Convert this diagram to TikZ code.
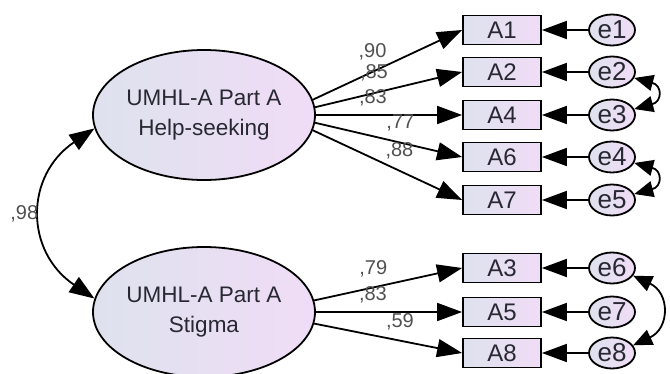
\documentclass[tikz,border=0pt]{standalone}
\usepackage{fontspec}
\setmainfont{Liberation Sans}
\usetikzlibrary{arrows.meta,shapes.geometric,positioning}
\definecolor{shadeleft}{RGB}{222,226,238}
\definecolor{shaderight}{RGB}{240,220,246}
\definecolor{nodetext}{RGB}{40,40,50}
\definecolor{coeftext}{RGB}{80,80,80}

\begin{document}
\begin{tikzpicture}[x=1pt, y=1pt,
    latent/.style = {ellipse, draw, line width=1.8pt, left color=shadeleft,
                     right color=shaderight, minimum width=222pt,
                     minimum height=130pt, inner sep=0pt, align=center,
                     text=nodetext, font=\fontsize{22.5}{30}\selectfont},
    item/.style   = {rectangle, draw, line width=1.8pt, left color=shadeleft,
                     right color=shaderight, minimum width=78pt,
                     minimum height=29pt, inner sep=0pt, text=nodetext,
                     font=\fontsize{24}{26}\selectfont},
    err/.style    = {ellipse, draw, line width=1.8pt, left color=shadeleft,
                     right color=shaderight, minimum width=46pt,
                     minimum height=31pt, inner sep=0pt, text=nodetext,
                     font=\fontsize{26}{28}\selectfont},
    load/.style   = {-{Triangle[length=25pt,width=18pt]}, line width=1.8pt},
    corr/.style   = {{Triangle[length=25pt,width=18pt]}-{Triangle[length=25pt,width=18pt]},
                     line width=1.8pt},
    cov/.style    = {{Triangle[length=19pt,width=16pt]}-{Triangle[length=19pt,width=16pt]},
                     line width=1.8pt},
    coef/.style   = {inner sep=0pt, text=coeftext, font=\fontsize{20}{21}\selectfont},
]

  \useasboundingbox (0,0) rectangle (670,373);

  \node[latent] (help) at (204,258) {UMHL-A Part A\\Help-seeking};
  \node[latent] (stig) at (204,61)  {UMHL-A Part A\\Stigma};

  % Items and their error terms
  \foreach \n/\e/\y in {1/1/343, 2/2/301, 4/3/258, 6/4/216, 7/5/173,
                        3/6/105, 5/7/61, 8/8/20} {
    \node[item] (A\n) at (502,\y) {A\n};
    \node[err]  (e\e) at (612,\y) {e\e};
    \draw[load] (e\e) -- (A\n);
  }

  % Loadings
  \draw[load] (help.8)  -- node[coef, pos=0.40, above=11pt] (c1) {,90} (A1.west);
  \draw[load] (help.4)  -- node[coef, pos=0.40, above=11pt] (c2) {,85} (A2.west);
  \draw[load] (help.0)  -- node[coef, pos=0.39, above=8pt]  (c4) {,83} (A4.west);
  \draw[load] (help.-4) -- node[coef, pos=0.58, above=11pt] (c6) {,77} (A6.west);
  \draw[load] (help.-8) -- node[coef, pos=0.58, above=11pt] (c7) {,88} (A7.west);

  \draw[load] (stig.6)  -- node[coef, pos=0.40, above=9pt]  (c3) {,79} (A3.west);
  \draw[load] (stig.0)  -- node[coef, pos=0.39, above=8pt]  (c5) {,83} (A5.west);
  \draw[load] (stig.-6) -- node[coef, pos=0.58, above=10pt] (c8) {,59} (A8.west);

  % Covariances
  \draw[corr] (help.187) to[out=214, in=146, looseness=1.27]
      node[coef, left=3pt] (c98) {,98} (stig.173);
  \draw[cov] (e2.-15) to[out=-15, in=15, looseness=2.4] (e3.15);
  \draw[cov] (e4.-15) to[out=-15, in=15, looseness=2.4] (e5.15);
  \draw[cov] (e6.-20) to[out=-25, in=25, looseness=1.5] (e8.20);

\end{tikzpicture}
\end{document}
